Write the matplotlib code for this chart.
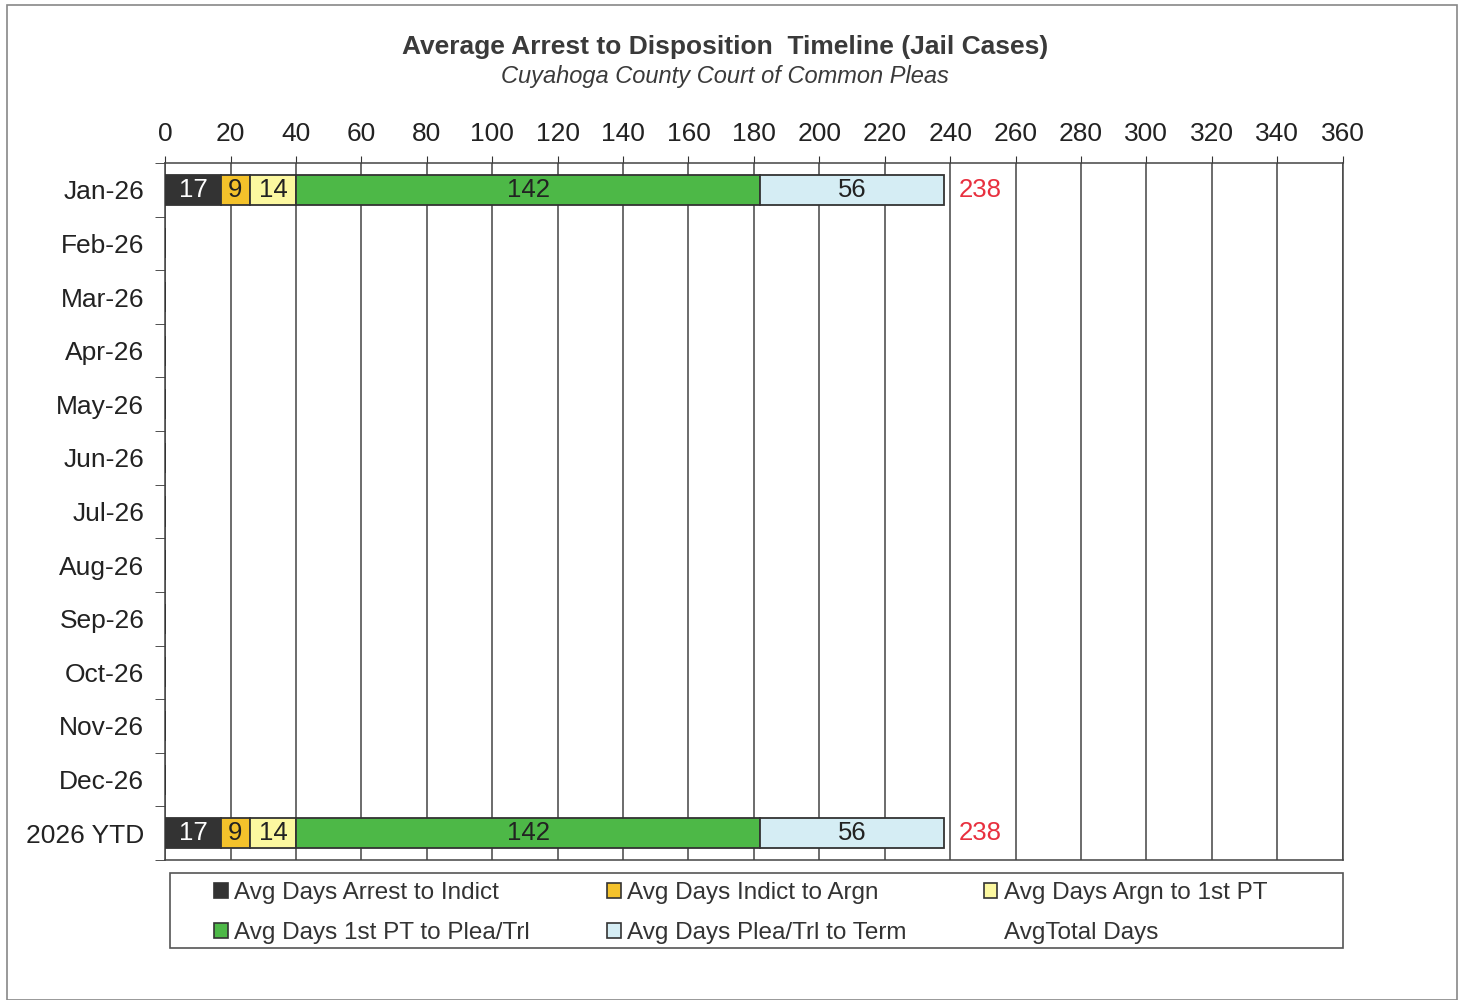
import numpy as np
import matplotlib.pyplot as plt
from matplotlib.patches import Rectangle, Patch

plt.rcParams['font.family'] = ['Liberation Sans', 'DejaVu Sans']

months = ['Jan-26', 'Feb-26', 'Mar-26', 'Apr-26', 'May-26', 'Jun-26', 'Jul-26',
          'Aug-26', 'Sep-26', 'Oct-26', 'Nov-26', 'Dec-26', '2026 YTD']
nan = np.nan
arrest_indict = [17, nan, nan, nan, nan, nan, nan, nan, nan, nan, nan, nan, 17]
indict_argn = [9, nan, nan, nan, nan, nan, nan, nan, nan, nan, nan, nan, 9]
argn_pt = [14, nan, nan, nan, nan, nan, nan, nan, nan, nan, nan, nan, 14]
pt_plea = [142, nan, nan, nan, nan, nan, nan, nan, nan, nan, nan, nan, 142]
plea_term = [56, nan, nan, nan, nan, nan, nan, nan, nan, nan, nan, nan, 56]
total_days = [238, nan, nan, nan, nan, nan, nan, nan, nan, nan, nan, nan, 238]

names = ['Avg Days Arrest to Indict', 'Avg Days Indict to Argn', 'Avg Days Argn to 1st PT',
         'Avg Days 1st PT to Plea/Trl', 'Avg Days Plea/Trl to Term']
colors = ['#333333', '#f4c22b', '#fcf8a0', '#4db847', '#d5edf4']
txtcol = ['white', '#222222', '#222222', '#222222', '#222222']
series = [arrest_indict, indict_argn, argn_pt, pt_plea, plea_term]

fig = plt.figure(figsize=(14.61, 10.0), dpi=100)
ax = fig.add_axes([0.113, 0.14, 0.806, 0.697])

y = np.arange(len(months))
left = np.zeros(len(months))
handles = []
for vals, nm, c, tc in zip(series, names, colors, txtcol):
    v = np.array(vals, dtype=float)
    ax.barh(y, np.nan_to_num(v), left=left, height=0.56, color=c,
            edgecolor='#333333', linewidth=1.3, zorder=3)
    for yi, (vi, li) in enumerate(zip(v, left)):
        if not np.isnan(vi):
            ax.text(li + vi / 2, yi, f'{int(vi)}', ha='center', va='center',
                    fontsize=18.5, color=tc, zorder=4)
    left = left + np.nan_to_num(v)
    handles.append(Patch(facecolor=c, edgecolor='#333333', linewidth=1.2))

for yi, t in enumerate(total_days):
    if not np.isnan(t):
        ax.text(t + 4.5, yi, f'{int(t)}', ha='left', va='center',
                fontsize=18.5, color='#e8303f', zorder=4)
handles.append(Patch(facecolor='none', edgecolor='none'))
names_all = names + ['AvgTotal Days']

ax.set_xlim(0, 360)
ax.set_ylim(len(months) - 0.5, -0.5)
ax.set_xticks(np.arange(0, 361, 20))
ax.xaxis.tick_top()
ax.tick_params(axis='x', labelsize=19, length=5, color='#333333', pad=7,
               labelcolor='#222222')
ax.set_yticks(y)
ax.set_yticklabels(months)
ax.tick_params(axis='y', which='major', length=0, labelsize=19, pad=15,
               labelcolor='#222222')
ax.set_yticks(np.arange(-0.5, len(months), 1.0), minor=True)
ax.tick_params(axis='y', which='minor', length=7, color='#333333')
ax.grid(axis='x', color='#444444', linewidth=1.1, zorder=0)
for s in ax.spines.values():
    s.set_color('#444444')
    s.set_linewidth(1.1)

# legend entries without frame; box drawn separately to match the wider frame
order = [0, 3, 1, 4, 2, 5]
leg = fig.legend([handles[i] for i in order], [names_all[i] for i in order],
                 ncol=3, loc='center', bbox_to_anchor=(0.507, 0.087),
                 fontsize=17.5, frameon=False,
                 handlelength=0.55, handleheight=0.55, handletextpad=0.25,
                 columnspacing=3.2, labelspacing=0.75, borderpad=0.3)
for t in leg.get_texts():
    t.set_color('#333333')
fig.patches.append(Rectangle((0.1164, 0.052), 0.803, 0.075, transform=fig.transFigure,
                             fill=False, edgecolor='#555555', linewidth=1.2))

fig.text(0.496, 0.953, 'Average Arrest to Disposition  Timeline (Jail Cases)',
         ha='center', va='center', fontsize=19, fontweight='bold', color='#3a3a3a')
fig.text(0.496, 0.924, 'Cuyahoga County Court of Common Pleas',
         ha='center', va='center', fontsize=17, style='italic', color='#3a3a3a')

fig.patches.append(Rectangle((0.005, 0.0), 0.992, 0.995, transform=fig.transFigure,
                             fill=False, edgecolor='#888888', linewidth=1.2))

fig.savefig('out.png', dpi=100)
